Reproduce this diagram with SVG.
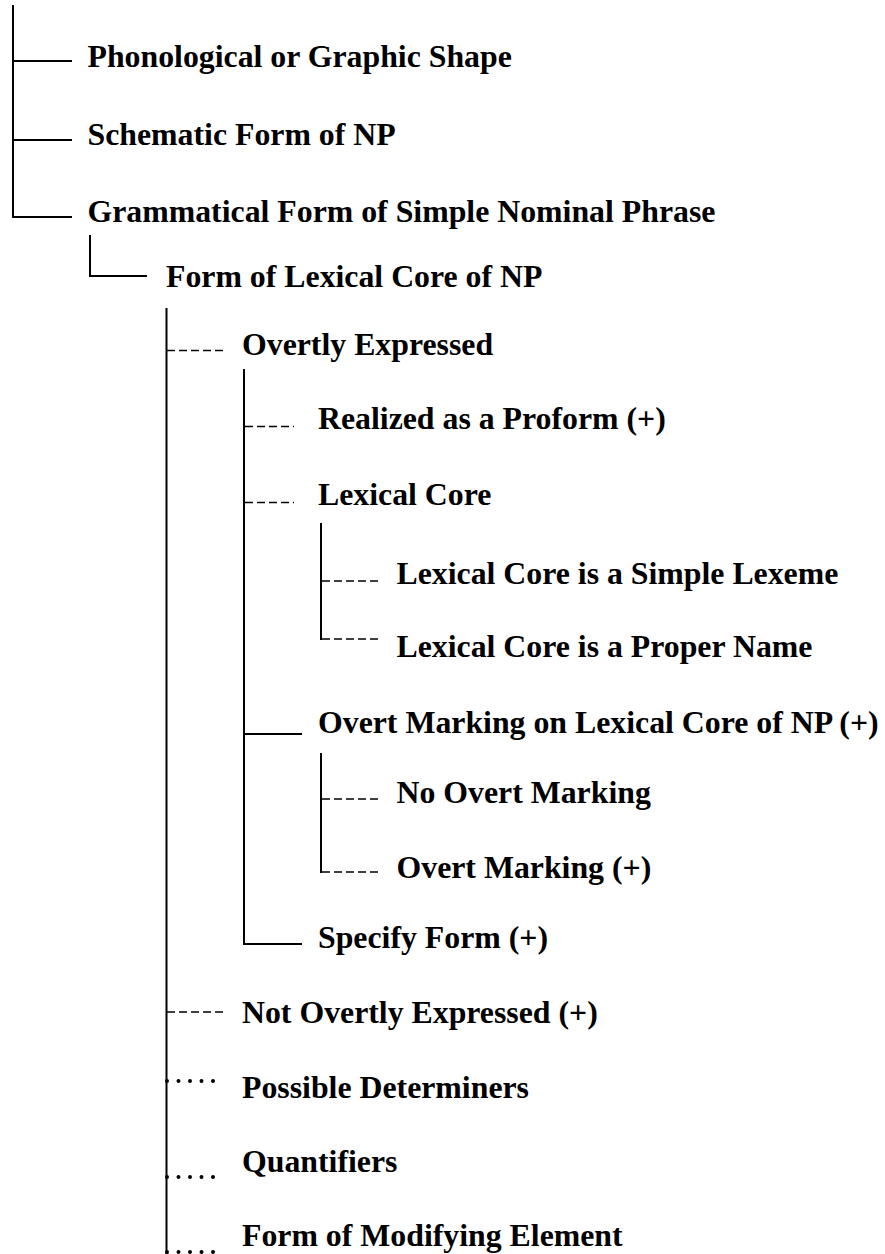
<svg xmlns="http://www.w3.org/2000/svg" width="885" height="1254" viewBox="0 0 885 1254">
<style>
text{font-family:"Liberation Serif","Times New Roman",serif;font-weight:bold;font-size:31.8px;fill:#000}
.s{stroke:#000;stroke-width:2;fill:none}
.d{stroke:#000;stroke-width:1.6;fill:none;stroke-dasharray:8 4}
.o{stroke:#000;stroke-width:4;fill:none;stroke-dasharray:0 11.5;stroke-linecap:round}
</style>
<rect width="885" height="1254" fill="#fff"/>
<g id="connectors">
<line class="s" x1="13" y1="5" x2="13" y2="218"/>
<line class="s" x1="12" y1="61" x2="72" y2="61"/>
<line class="s" x1="12" y1="140" x2="72" y2="140"/>
<line class="s" x1="12" y1="217" x2="72" y2="217"/>
<line class="s" x1="90" y1="235" x2="90" y2="277"/>
<line class="s" x1="89" y1="276" x2="147" y2="276"/>
<line class="s" x1="166.5" y1="308" x2="166.5" y2="1254"/>
<line class="d" x1="167" y1="350.5" x2="226" y2="350.5"/>
<line class="s" x1="244" y1="369" x2="244" y2="945"/>
<line class="d" x1="245" y1="426.5" x2="294" y2="426.5"/>
<line class="d" x1="245" y1="502.5" x2="294" y2="502.5"/>
<line class="s" x1="321" y1="523" x2="321" y2="640"/>
<line class="d" x1="322" y1="581" x2="380" y2="581"/>
<line class="d" x1="322" y1="639" x2="380" y2="639"/>
<line class="s" x1="243" y1="734" x2="302" y2="734"/>
<line class="s" x1="321" y1="753" x2="321" y2="873"/>
<line class="d" x1="322" y1="799" x2="380" y2="799"/>
<line class="d" x1="322" y1="872" x2="380" y2="872"/>
<line class="s" x1="243" y1="944" x2="302" y2="944"/>
<line class="d" x1="167" y1="1012" x2="226" y2="1012"/>
<line class="o" x1="167" y1="1081" x2="214" y2="1081"/>
<line class="o" x1="167" y1="1177" x2="214" y2="1177"/>
<line class="o" x1="167" y1="1252" x2="214" y2="1252"/>
</g>
<g id="n-phonological"><text x="87.5" y="67">Phonological or Graphic Shape</text></g>
<g id="n-schematic"><text x="87.5" y="145">Schematic Form of NP</text></g>
<g id="n-grammatical"><text x="87.5" y="222">Grammatical Form of Simple Nominal Phrase</text></g>
<g id="n-formlexcore"><text x="166" y="287">Form of Lexical Core of NP</text></g>
<g id="n-overtly"><text x="242" y="355">Overtly Expressed</text></g>
<g id="n-proform"><text x="318" y="429">Realized as a Proform (+)</text></g>
<g id="n-lexcore"><text x="318" y="505">Lexical Core</text></g>
<g id="n-simple"><text x="396.5" y="584">Lexical Core is a Simple Lexeme</text></g>
<g id="n-proper"><text x="396.5" y="657">Lexical Core is a Proper Name</text></g>
<g id="n-overtmarkingon"><text x="318" y="733">Overt Marking on Lexical Core of NP (+)</text></g>
<g id="n-noovert"><text x="396.5" y="803">No Overt Marking</text></g>
<g id="n-overtmarking"><text x="396.5" y="878">Overt Marking (+)</text></g>
<g id="n-specify"><text x="318" y="948">Specify Form (+)</text></g>
<g id="n-notovertly"><text x="242" y="1023">Not Overtly Expressed (+)</text></g>
<g id="n-determiners"><text x="242" y="1098">Possible Determiners</text></g>
<g id="n-quantifiers"><text x="242" y="1172">Quantifiers</text></g>
<g id="n-modifying"><text x="242" y="1246">Form of Modifying Element</text></g>
</svg>
